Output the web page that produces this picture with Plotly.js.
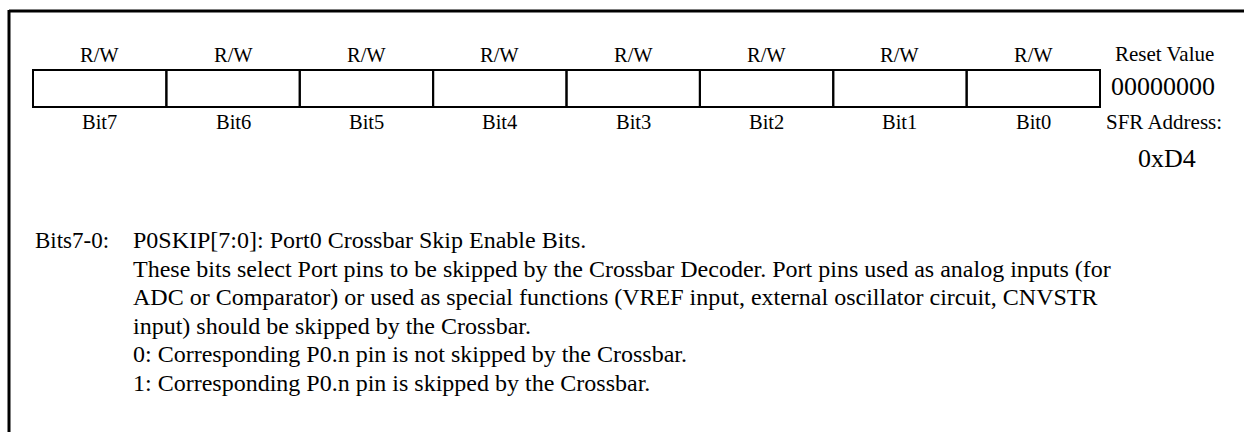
<!DOCTYPE html>
<html>
<head>
<meta charset="utf-8">
<script src="https://cdn.plot.ly/plotly-3.0.1.min.js"></script>
<style>html,body{margin:0;padding:0;background:#fff;}#chart{width:1244px;height:432px;}</style>
</head>
<body>
<div id="chart"></div>
<script>
// ---- data ----
const bitLabels = ['Bit7', 'Bit6', 'Bit5', 'Bit4', 'Bit3', 'Bit2', 'Bit1', 'Bit0'];
const accessLabels = ['R/W', 'R/W', 'R/W', 'R/W', 'R/W', 'R/W', 'R/W', 'R/W'];
const resetTitle = 'Reset Value';
const resetValue = '00000000';
const sfrTitle = 'SFR Address:';
const sfrAddress = '0xD4';
const fieldLabel = 'Bits7-0:';
const descLines = [
  'P0SKIP[7:0]: Port0 Crossbar Skip Enable Bits.',
  'These bits select Port pins to be skipped by the Crossbar Decoder. Port pins used as analog inputs (for',
  'ADC or Comparator) or used as special functions (VREF input, external oscillator circuit, CNVSTR',
  'input) should be skipped by the Crossbar.',
  '0: Corresponding P0.n pin is not skipped by the Crossbar.',
  '1: Corresponding P0.n pin is skipped by the Crossbar.'
];

// ---- layout geometry ----
const W = 1244, H = 432;
const boxLeft = 33, boxRight = 1100, boxTop = 70, boxBottom = 107;
const cellW = (boxRight - boxLeft) / bitLabels.length;
const sideX = 1164;
const FONT = 'Liberation Serif, Times New Roman, serif';
const descTop = 240, descStep = 28.5, descX = 131;

const shapes = [];
// outer frame (top and left edges visible)
shapes.push({type: 'line', xref: 'x', yref: 'y', x0: 9, x1: W + 5, y0: 11, y1: 11, line: {color: '#000', width: 3}});
shapes.push({type: 'line', xref: 'x', yref: 'y', x0: 9, x1: 9, y0: 10, y1: H + 5, line: {color: '#000', width: 3}});
// register cells
bitLabels.forEach((b, i) => {
  shapes.push({type: 'rect', xref: 'x', yref: 'y',
    x0: boxLeft + i * cellW, x1: boxLeft + (i + 1) * cellW,
    y0: boxTop, y1: boxBottom, line: {color: '#000', width: 2}, fillcolor: 'rgba(0,0,0,0)'});
});

const annotations = [];
function txt(text, x, y, size, xanchor) {
  annotations.push({text: text, x: x, y: y, xref: 'x', yref: 'y', showarrow: false,
    xanchor: xanchor || 'center', yanchor: 'middle', font: {family: FONT, size: size, color: '#000'}});
}
accessLabels.forEach((a, i) => txt(a, boxLeft + (i + 0.5) * cellW, 55, 20.5));
bitLabels.forEach((b, i) => txt(b, boxLeft + (i + 0.5) * cellW, 122, 20.5));
txt(resetTitle, sideX, 54, 21);
txt(resetValue, sideX - 1, 86, 26);
txt(sfrTitle, sideX, 122, 21);
txt(sfrAddress, sideX + 3, 158, 26);
txt(fieldLabel, 33, descTop, 23, 'left');
descLines.forEach((line, i) => txt(line, descX, descTop + i * descStep, 24, 'left'));

const layout = {
  width: W, height: H,
  margin: {l: 0, r: 0, t: 0, b: 0, pad: 0},
  paper_bgcolor: '#fff', plot_bgcolor: '#fff',
  xaxis: {range: [0, W], visible: false, fixedrange: true},
  yaxis: {range: [H, 0], visible: false, fixedrange: true},
  showlegend: false,
  shapes: shapes,
  annotations: annotations
};
Plotly.newPlot('chart', [{x: [], y: [], type: 'scatter', hoverinfo: 'skip'}], layout, {staticPlot: true, displayModeBar: false});
</script>
</body>
</html>
